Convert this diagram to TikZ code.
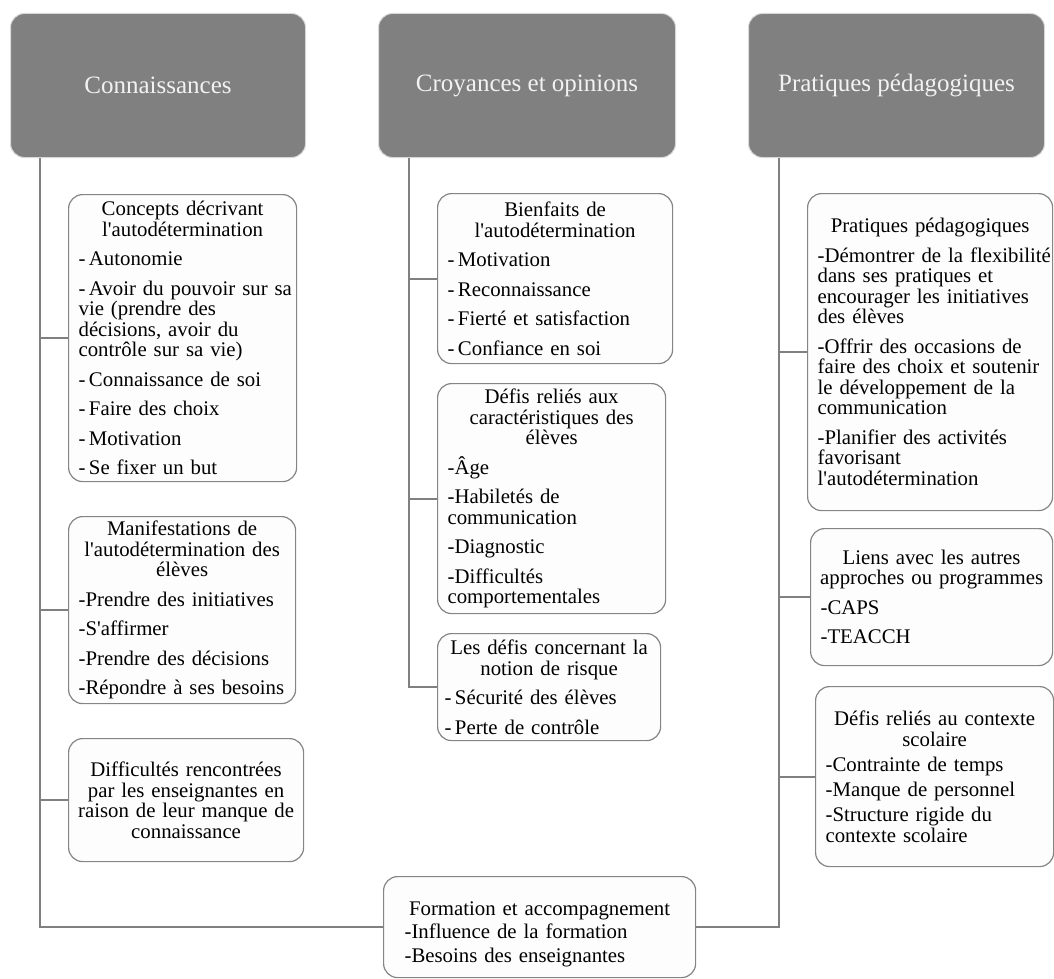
\documentclass[tikz,border=0pt]{standalone}
\usepackage{fontspec}
\setmainfont{Liberation Serif}[Ligatures=TeXOff]
\definecolor{hg}{HTML}{808080}
\definecolor{hb}{HTML}{D8D8D8}
\definecolor{ht}{HTML}{F2F2F2}
\definecolor{sb}{HTML}{858585}
\definecolor{sf}{HTML}{FDFDFD}
\definecolor{lg}{HTML}{808080}
\newcommand\pp{\parindent=0pt\parskip=9pt\lineskiplimit=-100pt\lineskip=0pt\relax}
\newcommand\titre{\centering}
\newcommand\liste{\raggedright\leftskip=10pt\relax}
\newcommand\fin{\par}
\newcommand\haut[1]{\par\kern#1\relax}
\tikzset{
  conn/.style={draw=lg, line width=2pt},
  head/.style={rectangle, rounded corners=14pt, fill=hg, draw=hb, line width=1pt,
    inner sep=0pt, text=ht, font=\fontsize{25}{28}\selectfont, anchor=north west},
  sub/.style={rectangle, rounded corners=14pt, fill=sf, draw=sb, line width=1.2pt,
    inner sep=0pt, anchor=north west, text=black, font=\fontsize{20.8}{20.5}\selectfont},
  box/.style 2 args={sub, text width=#1, minimum width=#1, minimum height=#2},
}
\begin{document}
\begin{tikzpicture}[x=1pt,y=-1pt]
\useasboundingbox (0,0) rectangle (1054,979);
% headers
\node[head, minimum width=295, minimum height=144] (H1) at (10,13) {Connaissances};
\node[head, minimum width=297, minimum height=144] (H2) at (378,13) {Croyances et opinions};
\node[head, minimum width=296, minimum height=144] (H3) at (748,13) {Pratiques pédagogiques};
% column 1
\node[box={228}{287}] (C1a) at (68,194) {\pp\titre Concepts décrivant\break l'autodétermination\par
  \liste -\,Autonomie\par -\,Avoir du pouvoir sur sa\break vie (prendre des\break décisions, avoir du\break contrôle sur sa vie)\par
  -\,Connaissance de soi\par -\,Faire des choix\par -\,Motivation\par -\,Se fixer un but\fin};
\node[box={227}{187}] (C1b) at (68,516) {\pp\titre Manifestations de\break l'autodétermination des\break élèves\par
  \liste -Prendre des initiatives\par -S'affirmer\par -Prendre des décisions\par -Répondre à ses besoins\fin};
\node[box={235}{123}] (C1c) at (68,738) {\pp\titre Difficultés rencontrées\break par les enseignantes en\break raison de leur manque de\break connaissance\fin};
% column 2
\node[box={235}{170}] (C2a) at (437,193) {\pp\titre Bienfaits de\break l'autodétermination\par
  \liste -\,Motivation\par -\,Reconnaissance\par -\,Fierté et satisfaction\par -\,Confiance en soi\fin};
\node[box={228}{230}] (C2b) at (437,383) {\pp\titre Défis reliés aux\break caractéristiques des\break élèves\par
  \liste -Âge\par -Habiletés de\break communication\par -Diagnostic\par -Difficultés\break comportementales\fin};
\node[box={223}{107}] (C2c) at (437,633) {\pp\titre Les défis concernant la\break notion de risque\par
  \liste\leftskip=7pt -\,Sécurité des élèves\par -\,Perte de contrôle\fin};
% column 3
\node[box={245}{317}] (C3a) at (807,193) {\pp\titre Pratiques pédagogiques\par
  \liste -Démontrer de la flexibilité\break dans ses pratiques et\break encourager les initiatives\break des élèves\par
  -Offrir des occasions de\break faire des choix et soutenir\break le développement de la\break communication\par
  -Planifier des activités\break favorisant\break l'autodétermination\fin};
\node[box={242}{137}] (C3b) at (810,528) {\pp\titre Liens avec les autres\break approches ou programmes\par
  \liste -CAPS\par -TEACCH\fin};
\node[box={238}{180}, font=\fontsize{20.8}{21}\selectfont] (C3c) at (815,686) {\pp\parskip=4pt\titre Défis reliés au contexte\break scolaire\par
  \liste -Contrainte de temps\par -Manque de personnel\par -Structure rigide du\break contexte scolaire\fin};
% bottom
\node[box={312}{101}, font=\fontsize{20.8}{23.5}\selectfont] (F) at (383,876) {\pp\parskip=0pt\haut{4pt}\titre Formation et accompagnement\par
  \liste\leftskip=21pt -Influence de la formation\par -Besoins des enseignantes\par};
% connectors
\coordinate (t1) at ([xshift=30pt]H1.south west);
\coordinate (t2) at ([xshift=31pt]H2.south west);
\coordinate (t3) at ([xshift=31pt]H3.south west);
\draw[conn] (t1) |- (F.west);
\draw[conn] (t1 |- C1a.west) -- (C1a.west);
\draw[conn] (t1 |- C1b.west) -- (C1b.west);
\draw[conn] (t1 |- C1c.west) -- (C1c.west);
\draw[conn] (t2) |- (C2c.west);
\draw[conn] (t2 |- C2a.west) -- (C2a.west);
\draw[conn] (t2 |- C2b.west) -- (C2b.west);
\draw[conn] (t3) |- (F.east);
\draw[conn] (t3 |- C3a.west) -- (C3a.west);
\draw[conn] (t3 |- C3b.west) -- (C3b.west);
\draw[conn] (t3 |- C3c.west) -- (C3c.west);
\end{tikzpicture}
\end{document}
